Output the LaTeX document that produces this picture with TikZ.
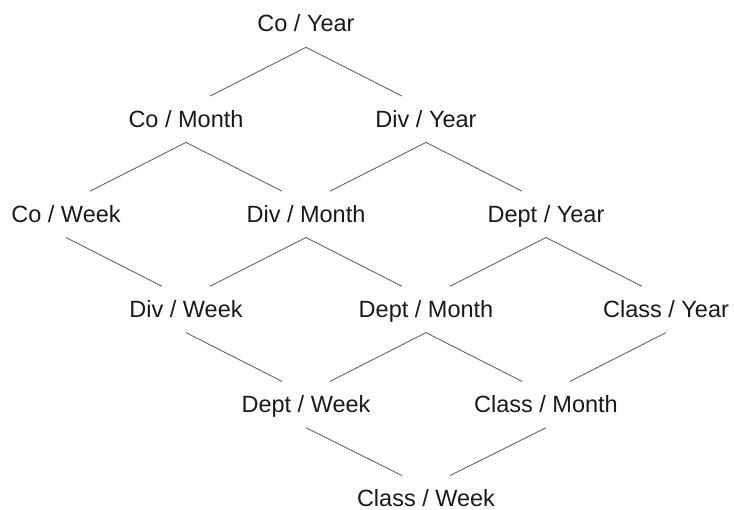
\documentclass[tikz,border=0pt]{standalone}
\usepackage{fontspec}
\setmainfont{Liberation Sans}
\begin{document}
\begin{tikzpicture}[x=1pt,y=1pt,
  lbl/.style={anchor=base, inner sep=0pt, text=black!90, font=\fontsize{23.5}{28}\selectfont},
  edge/.style={draw=black!60, line width=0.9pt}]
\useasboundingbox (0,0) rectangle (734,510);
\node[lbl] (cy)  at (306,478)   {Co / Year};
\node[lbl] (cm)  at (186,382.9) {Co / Month};
\node[lbl] (dy)  at (426,382.9) {Div / Year};
\node[lbl] (cw)  at (66,287.8)  {Co / Week};
\node[lbl] (dm)  at (306,287.8) {Div / Month};
\node[lbl] (dpy) at (546,287.8) {Dept / Year};
\node[lbl] (dw)  at (186,192.7) {Div / Week};
\node[lbl] (dpm) at (426,192.7) {Dept / Month};
\node[lbl] (cly) at (666,192.7) {Class / Year};
\node[lbl] (dpw) at (306,97.6)  {Dept / Week};
\node[lbl] (clm) at (546,97.6)  {Class / Month};
\node[lbl] (clw) at (426,3.4)   {Class / Week};
% left children: lower node lies to the left of the upper node
\foreach \u/\l in {cy/cm, cm/cw, dy/dm, dm/dw, dpy/dpm, dpm/dpw, cly/clm, clm/clw}
  \draw[edge] ([yshift=-15.3pt]\u.base) -- ([shift={(24pt,31pt)}]\l.base);
% right children
\foreach \u/\l in {cy/dy, cm/dm, dy/dpy, cw/dw, dm/dpm, dpy/cly, dw/dpw, dpm/clm, dpw/clw}
  \draw[edge] ([yshift=-15.3pt]\u.base) -- ([shift={(-24pt,31pt)}]\l.base);
\end{tikzpicture}
\end{document}
